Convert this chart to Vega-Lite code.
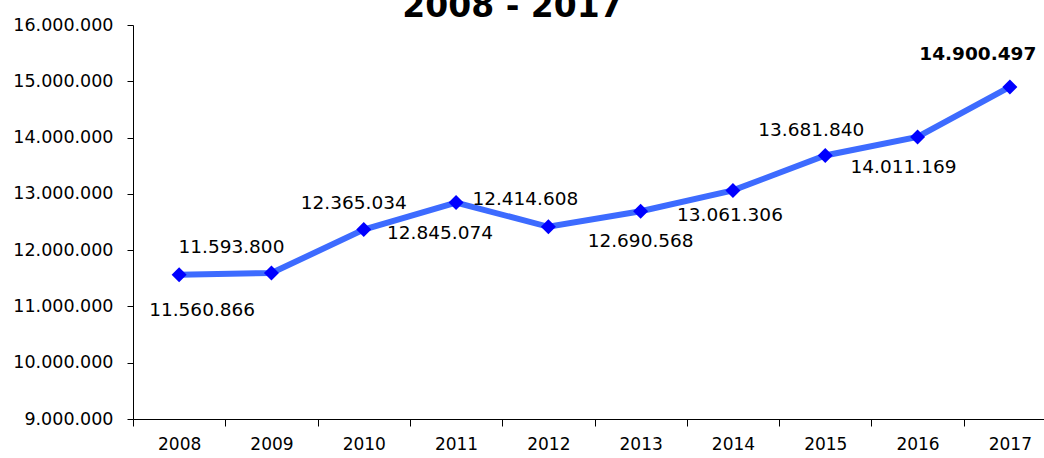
{
  "$schema": "https://vega.github.io/schema/vega-lite/v6.json",
  "width": 923,
  "height": 394,
  "autosize": {"type": "none"},
  "padding": {"left": 133, "top": 25, "right": 0, "bottom": 39},
  "config": {
    "view": {"stroke": null},
    "font": "DejaVu Sans",
    "locale": {"number": {"decimal": ",", "thousands": ".", "grouping": [3], "currency": ["", " €"]}}
  },
  "title": {
    "text": "2008 - 2017",
    "fontSize": 33,
    "fontWeight": "bold",
    "font": "DejaVu Sans",
    "color": "black",
    "anchor": "middle",
    "dx": -82,
    "baseline": "alphabetic",
    "offset": -34
  },
  "data": {
    "values": [
      {"year": "2008", "value": 11560866},
      {"year": "2009", "value": 11593800},
      {"year": "2010", "value": 12365034},
      {"year": "2011", "value": 12845074},
      {"year": "2012", "value": 12414608},
      {"year": "2013", "value": 12690568},
      {"year": "2014", "value": 13061306},
      {"year": "2015", "value": 13681840},
      {"year": "2016", "value": 14011169},
      {"year": "2017", "value": 14900497}
    ]
  },
  "encoding": {
    "x": {
      "field": "year",
      "type": "ordinal",
      "scale": {"type": "band", "paddingInner": 0, "paddingOuter": 0},
      "axis": {
        "title": null,
        "labelAngle": 0,
        "labelFontSize": 17,
        "labelColor": "black",
        "labelPadding": 10,
        "tickBand": "extent",
        "tickSize": 7,
        "tickColor": "black",
        "domainColor": "black",
        "grid": false
      }
    },
    "y": {
      "field": "value",
      "type": "quantitative",
      "scale": {"domain": [9000000, 16000000], "nice": false, "zero": false},
      "axis": {
        "title": null,
        "values": [9000000, 10000000, 11000000, 12000000, 13000000, 14000000, 15000000, 16000000],
        "format": ",d",
        "labelFontSize": 17.5,
        "labelColor": "black",
        "labelPadding": 14,
        "tickSize": 6,
        "tickColor": "black",
        "domainColor": "black",
        "grid": false
      }
    }
  },
  "layer": [
    {"mark": {"type": "line", "color": "#3d6bff", "strokeWidth": 6}},
    {"mark": {"type": "point", "shape": "diamond", "filled": true, "color": "#0000ff", "size": 225, "opacity": 1}},
    {"transform": [{"filter": "datum.year == '2008'"}], "mark": {"type": "text", "fontSize": 18.5, "color": "black", "dx": 23, "dy": 35}, "encoding": {"text": {"field": "value", "type": "quantitative", "format": ",d"}}},
    {"transform": [{"filter": "datum.year == '2009'"}], "mark": {"type": "text", "fontSize": 18.5, "color": "black", "dx": -40, "dy": -26}, "encoding": {"text": {"field": "value", "type": "quantitative", "format": ",d"}}},
    {"transform": [{"filter": "datum.year == '2010'"}], "mark": {"type": "text", "fontSize": 18.5, "color": "black", "dx": -10, "dy": -27}, "encoding": {"text": {"field": "value", "type": "quantitative", "format": ",d"}}},
    {"transform": [{"filter": "datum.year == '2011'"}], "mark": {"type": "text", "fontSize": 18.5, "color": "black", "dx": -16, "dy": 30}, "encoding": {"text": {"field": "value", "type": "quantitative", "format": ",d"}}},
    {"transform": [{"filter": "datum.year == '2012'"}], "mark": {"type": "text", "fontSize": 18.5, "color": "black", "dx": -23, "dy": -28}, "encoding": {"text": {"field": "value", "type": "quantitative", "format": ",d"}}},
    {"transform": [{"filter": "datum.year == '2013'"}], "mark": {"type": "text", "fontSize": 18.5, "color": "black", "dx": 0, "dy": 30}, "encoding": {"text": {"field": "value", "type": "quantitative", "format": ",d"}}},
    {"transform": [{"filter": "datum.year == '2014'"}], "mark": {"type": "text", "fontSize": 18.5, "color": "black", "dx": -3, "dy": 25}, "encoding": {"text": {"field": "value", "type": "quantitative", "format": ",d"}}},
    {"transform": [{"filter": "datum.year == '2015'"}], "mark": {"type": "text", "fontSize": 18.5, "color": "black", "dx": -14, "dy": -25}, "encoding": {"text": {"field": "value", "type": "quantitative", "format": ",d"}}},
    {"transform": [{"filter": "datum.year == '2016'"}], "mark": {"type": "text", "fontSize": 18.5, "color": "black", "dx": -14, "dy": 30}, "encoding": {"text": {"field": "value", "type": "quantitative", "format": ",d"}}},
    {"transform": [{"filter": "datum.year == '2017'"}], "mark": {"type": "text", "fontSize": 18.5, "fontWeight": "bold", "color": "black", "dx": -32, "dy": -33}, "encoding": {"text": {"field": "value", "type": "quantitative", "format": ",d"}}}
  ]
}
